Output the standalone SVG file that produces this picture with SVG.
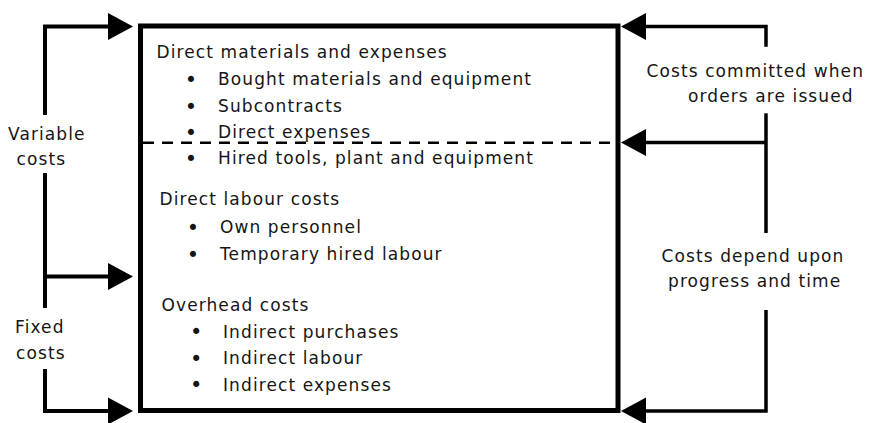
<svg xmlns="http://www.w3.org/2000/svg" width="869" height="423" viewBox="0 0 869 423">
<style>
text{font-family:"DejaVu Sans","Liberation Sans",sans-serif;font-size:17px;fill:#151515;letter-spacing:1.1px}
text.b{font-size:21px;letter-spacing:0}
.ln{fill:none;stroke:#000;stroke-width:4}
.rl{fill:none;stroke:#000;stroke-width:3.5}
.ah{fill:#000}
</style>
<rect width="869" height="423" fill="#fff"/>
<g id="box">
<rect x="140.5" y="26" width="477.5" height="384.5" fill="none" stroke="#000" stroke-width="5"/>
<line x1="143" y1="142.7" x2="616" y2="142.7" stroke="#000" stroke-width="2.6" stroke-dasharray="11,8"/>
<text x="156.5" y="57.5">Direct materials and expenses</text>
<text class="b" x="184.8" y="87">•</text><text x="218" y="85">Bought materials and equipment</text>
<text class="b" x="184.8" y="113.5">•</text><text x="218" y="111.5">Subcontracts</text>
<text class="b" x="184.8" y="139.7">•</text><text x="218" y="137.7">Direct expenses</text>
<text class="b" x="184.8" y="166.3">•</text><text x="218" y="164.3">Hired tools, plant and equipment</text>
<text x="159.5" y="205">Direct labour costs</text>
<text class="b" x="186.8" y="235.3">•</text><text x="220" y="233.3">Own personnel</text>
<text class="b" x="186.8" y="262">•</text><text x="220" y="260">Temporary hired labour</text>
<text x="161.5" y="311">Overhead costs</text>
<text class="b" x="190" y="339.2">•</text><text x="223" y="337.7">Indirect purchases</text>
<text class="b" x="190" y="365.5">•</text><text x="223" y="364">Indirect labour</text>
<text class="b" x="190" y="392.2">•</text><text x="223" y="390.7">Indirect expenses</text>
</g>
<g id="left-labels">
<text x="8" y="140">Variable</text>
<text x="16.5" y="165">costs</text>
<text x="15" y="333.3">Fixed</text>
<text x="16" y="359.3">costs</text>
</g>
<g id="right-labels">
<text x="646.5" y="77">Costs committed when</text>
<text x="688" y="101.7">orders are issued</text>
<text x="661.5" y="261.7">Costs depend upon</text>
<text x="668" y="286.5">progress and time</text>
</g>
<g id="connectors">
<path class="ln" d="M45,115 V26.5 H110"/>
<path class="ln" d="M45,173 V308"/>
<path class="ln" d="M45,276.5 H110"/>
<path class="ln" d="M45,369 V411 H110"/>
<polygon class="ah" points="108,13 133,26.5 108,40"/>
<polygon class="ah" points="108,263 133,276.5 108,290"/>
<polygon class="ah" points="108,397.5 133,411 108,424.5"/>
<path class="rl" d="M766,46.7 V26.5 H644"/>
<path class="rl" d="M766,113.3 V233"/>
<path class="rl" d="M766,142.5 H644"/>
<path class="rl" d="M766,310 V411 H644"/>
<polygon class="ah" points="646,13 621,26.5 646,40"/>
<polygon class="ah" points="646,129 621,142.5 646,156"/>
<polygon class="ah" points="646,397.5 621,411 646,424.5"/>
</g>
</svg>
